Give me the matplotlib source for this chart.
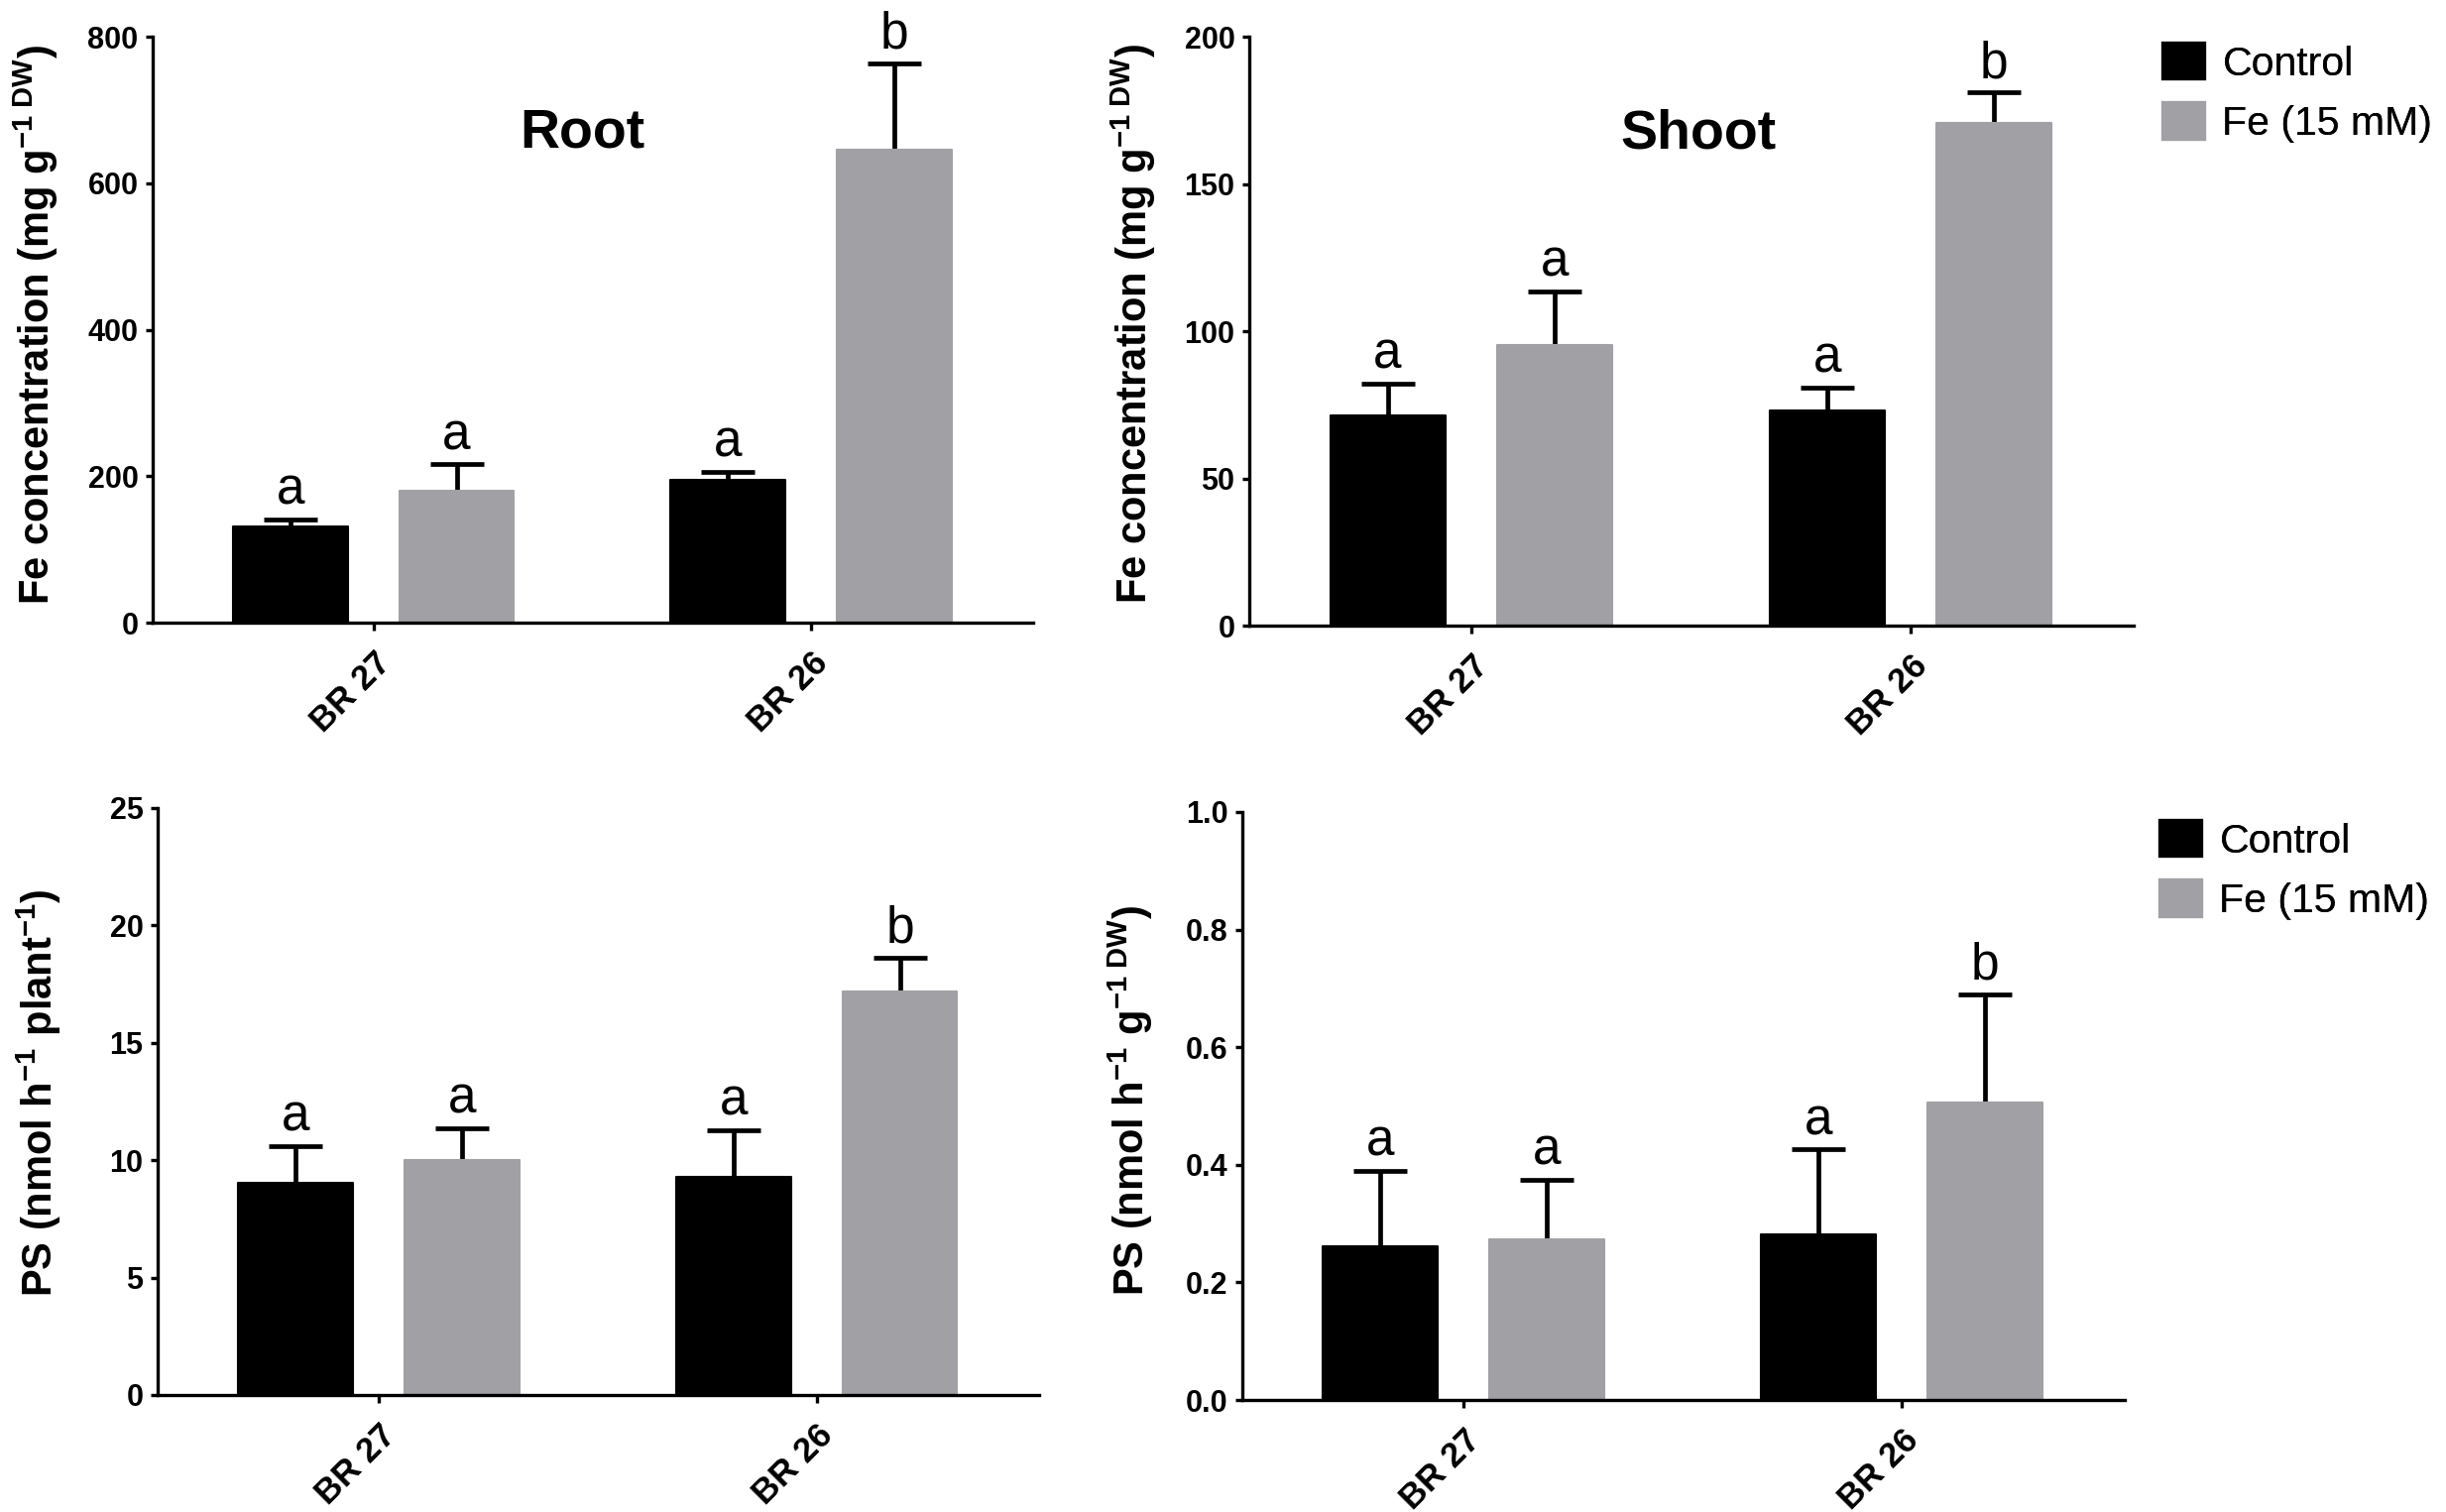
import matplotlib
matplotlib.use("Agg")
import matplotlib.pyplot as plt
from matplotlib.patches import Patch
from matplotlib.ticker import FormatStrFormatter, MultipleLocator
import numpy as np

# ---------------- data ----------------
groups = ["BR 27", "BR 26"]
series_names = ["Control", "Fe (15 mM)"]

root_ctrl = [131, 195]
root_ctrl_err = [10, 11]
root_fe = [180, 646]
root_fe_err = [36, 118]
root_letters_ctrl = ["a", "a"]
root_letters_fe = ["a", "b"]

shoot_ctrl = [71.5, 72.9]
shoot_ctrl_err = [10.7, 8.0]
shoot_fe = [95.3, 170.8]
shoot_fe_err = [18.2, 10.2]
shoot_letters_ctrl = ["a", "a"]
shoot_letters_fe = ["a", "b"]

ps_plant_ctrl = [9.03, 9.28]
ps_plant_ctrl_err = [1.57, 2.0]
ps_plant_fe = [10.02, 17.18]
ps_plant_fe_err = [1.33, 1.45]
ps_plant_letters_ctrl = ["a", "a"]
ps_plant_letters_fe = ["a", "b"]

ps_dw_ctrl = [0.262, 0.281]
ps_dw_ctrl_err = [0.128, 0.145]
ps_dw_fe = [0.274, 0.506]
ps_dw_fe_err = [0.101, 0.184]
ps_dw_letters_ctrl = ["a", "a"]
ps_dw_letters_fe = ["a", "b"]

# ---------------- style ----------------
plt.rcParams['font.family'] = ['Liberation Sans', 'DejaVu Sans']
plt.rcParams['mathtext.fontset'] = 'custom'
plt.rcParams['mathtext.rm'] = 'Liberation Sans'
plt.rcParams['mathtext.bf'] = 'Liberation Sans:bold'
plt.rcParams['mathtext.it'] = 'Liberation Sans:italic'

CTRL_COLOR = "#000000"
FE_COLOR = "#A1A1A5"
W, H = 2467, 1525

fig = plt.figure(figsize=(W / 100, H / 100), dpi=100)


def rect(l, t, r, b):
    return [l / W, 1 - b / H, (r - l) / W, (b - t) / H]


def panel(pos, ctrl, ctrl_err, fe, fe_err, lct, lfe, ymax, ystep, ylabel,
          ylabel_x, ylabel_y, fmt, title=None, title_xy=None):
    ax = fig.add_axes(rect(*pos))
    x = np.arange(len(groups))
    off, bw = 0.19, 0.262
    for xs, vals, errs, col, letters in [
        (x - off, ctrl, ctrl_err, CTRL_COLOR, lct),
        (x + off, fe, fe_err, FE_COLOR, lfe),
    ]:
        ax.errorbar(xs, vals, yerr=errs, fmt='none', ecolor='black',
                    elinewidth=3.4, capsize=19.5, capthick=3.4, zorder=1)
        ax.bar(xs, vals, width=bw, color=col, edgecolor=col, linewidth=1.5,
               joinstyle='round', zorder=2)
        for xi, v, e, lab in zip(xs, vals, errs, letters):
            ax.annotate(lab, (xi, v + e), xytext=(0, 11), textcoords='offset points',
                        ha='center', va='baseline', fontsize=37, zorder=3)
    ax.set_xlim(-0.505, 1.508)
    ax.set_ylim(0, ymax)
    ax.yaxis.set_major_locator(MultipleLocator(ystep))
    ax.yaxis.set_major_formatter(FormatStrFormatter(fmt))
    ax.set_xticks(x)
    ax.set_xticklabels(groups, rotation=45, ha='right', va='top',
                       rotation_mode='anchor', fontsize=25, fontweight='bold')
    for s in ['top', 'right']:
        ax.spines[s].set_visible(False)
    for s in ['left', 'bottom']:
        ax.spines[s].set_linewidth(2.4)
    ax.tick_params(axis='y', width=2.4, length=5, pad=5.5, labelsize=22)
    ax.tick_params(axis='x', width=2.4, length=6, pad=11)
    for t in ax.get_yticklabels():
        t.set_fontweight('bold')
    ax.text(ylabel_x, ylabel_y, ylabel, rotation=90, ha='center', va='center',
            fontsize=30, fontweight='bold', transform=ax.transAxes)
    if title:
        ax.text(title_xy[0], title_xy[1], title, ha='center', va='baseline',
                fontsize=40, fontweight='bold', transform=ax.transAxes)
    return ax


panel((154, 37, 1042, 628), root_ctrl, root_ctrl_err, root_fe, root_fe_err,
      root_letters_ctrl, root_letters_fe, 800, 200,
      r"Fe concentration (mg g$^{\mathbf{-1\ DW}}$)", -0.132, 0.509, '%d',
      title="Root", title_xy=(0.488, 0.812))

panel((1260, 37, 2152, 631), shoot_ctrl, shoot_ctrl_err, shoot_fe, shoot_fe_err,
      shoot_letters_ctrl, shoot_letters_fe, 200, 50,
      r"Fe concentration (mg g$^{\mathbf{-1\ DW}}$)", -0.131, 0.513, '%d',
      title="Shoot", title_xy=(0.508, 0.81))

panel((159, 815, 1048, 1407), ps_plant_ctrl, ps_plant_ctrl_err, ps_plant_fe,
      ps_plant_fe_err, ps_plant_letters_ctrl, ps_plant_letters_fe, 25, 5,
      r"PS (nmol h$^{\mathbf{-1}}$ plant$^{\mathbf{-1}}$)", -0.135, 0.515, '%d')

panel((1253, 819, 2143, 1412), ps_dw_ctrl, ps_dw_ctrl_err, ps_dw_fe, ps_dw_fe_err,
      ps_dw_letters_ctrl, ps_dw_letters_fe, 1.0, 0.2,
      r"PS (nmol h$^{\mathbf{-1}}$ g$^{\mathbf{-1\ DW}}$)", -0.127, 0.509, '%.1f')


def legend_at(left_px, top_px):
    handles = [Patch(facecolor=CTRL_COLOR, edgecolor=CTRL_COLOR, linewidth=3, joinstyle='round'),
               Patch(facecolor=FE_COLOR, edgecolor=FE_COLOR, linewidth=3, joinstyle='round')]
    leg = fig.legend(handles, series_names, loc='upper left',
                     bbox_to_anchor=(left_px / W, 1 - top_px / H),
                     frameon=False, fontsize=29.5, borderpad=0, borderaxespad=0,
                     handlelength=1.0, handleheight=0.95, handletextpad=0.45,
                     labelspacing=0.5)
    fig.add_artist(leg)
    return leg


legend_at(2182, 44)
legend_at(2179, 828)

fig.savefig("out.png", dpi=100)
